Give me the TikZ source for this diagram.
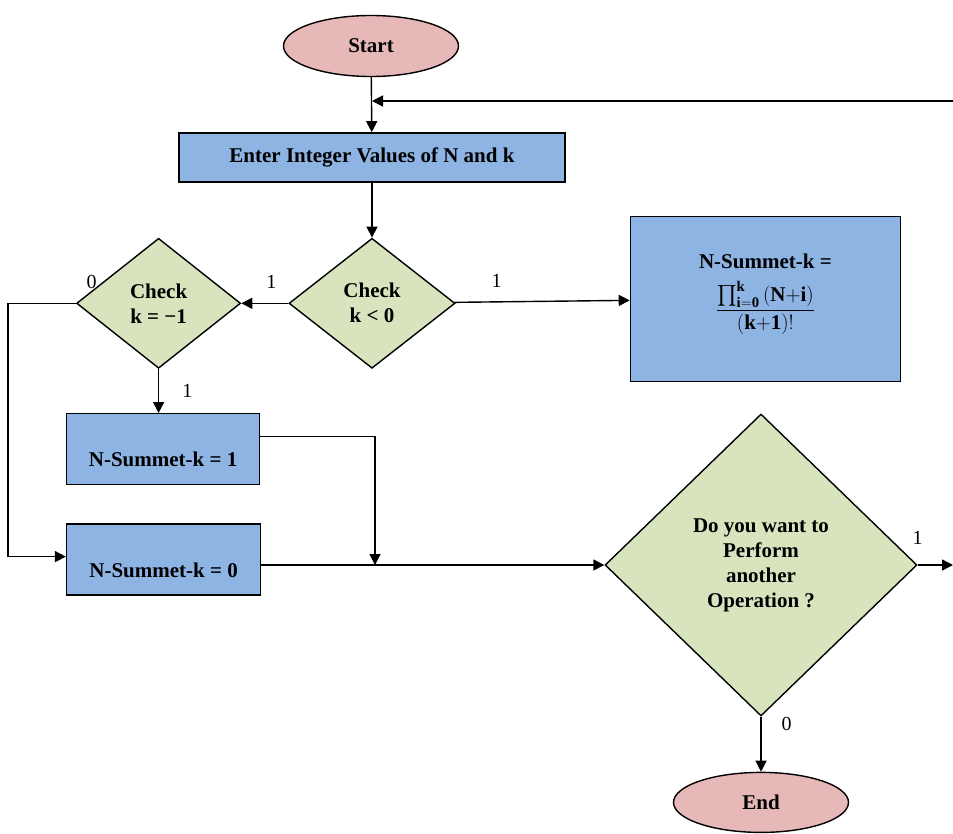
\documentclass[tikz,border=0pt]{standalone}
\usepackage{amsmath}
\usepackage{fontspec}
\setmainfont{Liberation Serif}
\usetikzlibrary{arrows.meta,positioning,shapes.geometric}

\definecolor{endpink}{HTML}{E6B9B8}
\definecolor{boxblue}{HTML}{8EB4E3}
\definecolor{diagreen}{HTML}{D7E4BD}

\newcommand{\sumfrac}{$\dfrac{\textstyle\prod_{\mathbf{i=0}}^{\mathbf{k}}\mathbf{(N{+}i)}}{\mathbf{(k{+}1)}!}$}

\begin{document}
\begin{tikzpicture}[
  x=1pt,y=-1pt,
  font=\bfseries\fontsize{21}{25}\selectfont,
  >={Triangle[length=11pt,width=11pt]},
  line width=1.4pt,
  terminal/.style={draw,ellipse,minimum width=175pt,minimum height=61pt,fill=endpink,inner sep=0pt},
  process/.style={draw,rectangle,fill=boxblue,align=center,inner sep=0pt},
  decision/.style={draw,diamond,fill=diagreen,align=center,inner sep=0pt},
  flow/.style={->},
  bit/.style={font=\fontsize{20}{24}\selectfont,inner sep=2pt}
]
\useasboundingbox (0,0) rectangle (953,834);

% ===== Input =====
\node[terminal] (start) at (371,46) {Start};
\node[process,minimum width=386pt,minimum height=49pt,below=55pt of start,xshift=1pt] (enter) {Enter Integer Values of N and k};

% ===== Checks =====
\node[decision,minimum width=166pt,minimum height=130pt,below=55pt of enter] (ck0) {Check\\k < 0};
\node[decision,minimum width=164pt,minimum height=130pt,left=47pt of ck0] (ck1) {Check\\k = −1};
\node[process,minimum width=270pt,minimum height=165pt,right=174pt of ck0,yshift=4.5pt,
  label={[yshift=37pt]center:N-Summet-k =},
  label={[yshift=-9pt]center:\sumfrac}] (form) {};

% ===== Results =====
\node[process,minimum width=193pt,minimum height=71pt,below=44pt of ck1,xshift=4.5pt,
  label={[yshift=-10.5pt]center:N-Summet-k = 1}] (one) {};
\node[process,minimum width=194pt,minimum height=71pt,below=38pt of one,xshift=0.5pt,
  label={[yshift=-10.5pt]center:N-Summet-k = 0}] (zero) {};

% ===== Repeat / End =====
\node[decision,minimum width=312pt,minimum height=302pt] (ask) at (761,565) {Do you want to\\Perform\\another\\Operation ?};
\node[terminal,minimum height=60pt,below=55pt of ask] (finish) {End};

\coordinate (back) at (953,101);
\coordinate (merge) at (375,565);
\coordinate (out) at (953,565);

% ===== Main Flow =====
\draw[flow] (start) -- (enter);
\draw[flow] (back) -- (back -| enter);
\draw[flow] (enter) -- (ck0);
\draw[flow] (ck0) -- node[bit,above=12pt,pos=0.24]{1} (form);
\draw[flow] (ck0) -- node[bit,above=12pt,pos=0.36]{1} (ck1);
\draw[flow] (ck1.west) node[bit,above right=12pt and 8pt]{0} -- ++(-68,0) |- ([yshift=3pt]zero.west);
\draw[flow] (ck1.south) -- node[bit,right=21pt]{1} (ck1.south |- one.north);
\draw[flow] ([yshift=12.5pt]one.east) -| (merge);
\draw[flow] (zero.east |- ask.west) -- (ask.west);
\draw[flow] (ask.east) node[bit,above=18pt]{1} -- (out);
\draw[flow] (ask) -- node[bit,right=18pt,pos=0.13]{0} (finish);

\end{tikzpicture}
\end{document}
